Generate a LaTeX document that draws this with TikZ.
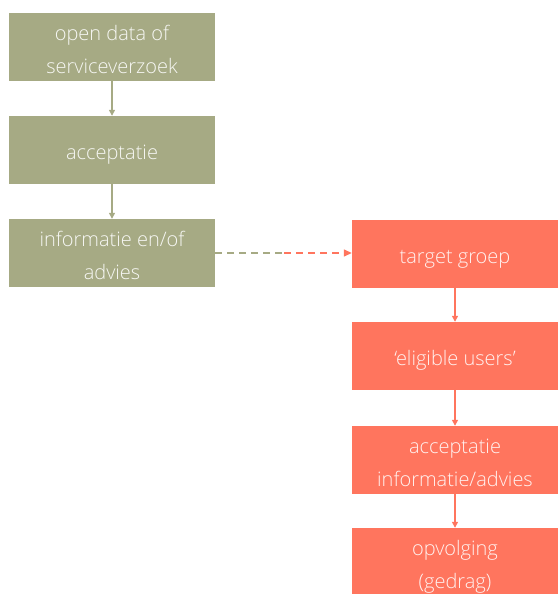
\documentclass[tikz,border=0pt]{standalone}
\usepackage{fontspec}
\setmainfont{Open Sans}[UprightFont=* Light]
\usetikzlibrary{arrows.meta}
\definecolor{olivebox}{HTML}{A6AA84}
\definecolor{coralbox}{HTML}{FF755E}
\tikzset{
  boxtext/.style={text=white, text opacity=0.9, align=center, inner sep=0pt,
    font=\fontsize{20}{33}\selectfont},
  box/.style={rectangle, minimum width=206pt, minimum height=68pt, inner sep=0pt},
  % caption of a box: vertical offset, then the (struted) lines
  caption/.style 2 args={label={[boxtext, yshift=#1]center:{#2}}},
  one/.style={caption={-2.4pt}{\strut #1}},
  two/.style 2 args={caption={-3.5pt}{\strut #1\\\strut #2}},
  greenbox/.style={box, fill=olivebox},
  redbox/.style={box, fill=coralbox},
  flow/.style={line width=1.3pt, -{Triangle[length=6pt,width=6pt]}},
}
\begin{document}
\begin{tikzpicture}[x=1pt,y=-1pt]
\useasboundingbox (0,0) rectangle (557,594);
% left column
\node[greenbox, two={open data of}{serviceverzoek}] (open) at (112,47) {};
\node[greenbox, one={acceptatie}] (acc) at (112,150) {};
\node[greenbox, two={informatie en/of}{advies}] (info) at (112,253) {};
% right column
\node[redbox, one={target groep}] (target) at (455,254) {};
\node[redbox, one={‘eligible users’}] (elig) at (455,356) {};
\node[redbox, two={acceptatie}{informatie/advies}] (accinfo) at (455,460) {};
\node[redbox, two={opvolging}{(gedrag)}] (opv) at (455,562) {};
% connectors
\draw[flow, olivebox] (open) -- (acc);
\draw[flow, olivebox] (acc) -- (info);
\draw[flow, coralbox] (target) -- (elig);
\draw[flow, coralbox] (elig) -- (accinfo);
\draw[flow, coralbox] (accinfo) -- (opv);
% dashed hand-over, olive fading into coral
\coordinate (mid) at (284,253);
\draw[olivebox, line width=1.4pt, dash pattern=on 7pt off 5pt] (info.east |- mid) -- (mid);
\draw[coralbox, line width=1.4pt, dash pattern=on 7pt off 5pt, -{Triangle[length=8pt,width=7pt]}] (mid) -- (target.west |- mid);
\end{tikzpicture}
\end{document}
